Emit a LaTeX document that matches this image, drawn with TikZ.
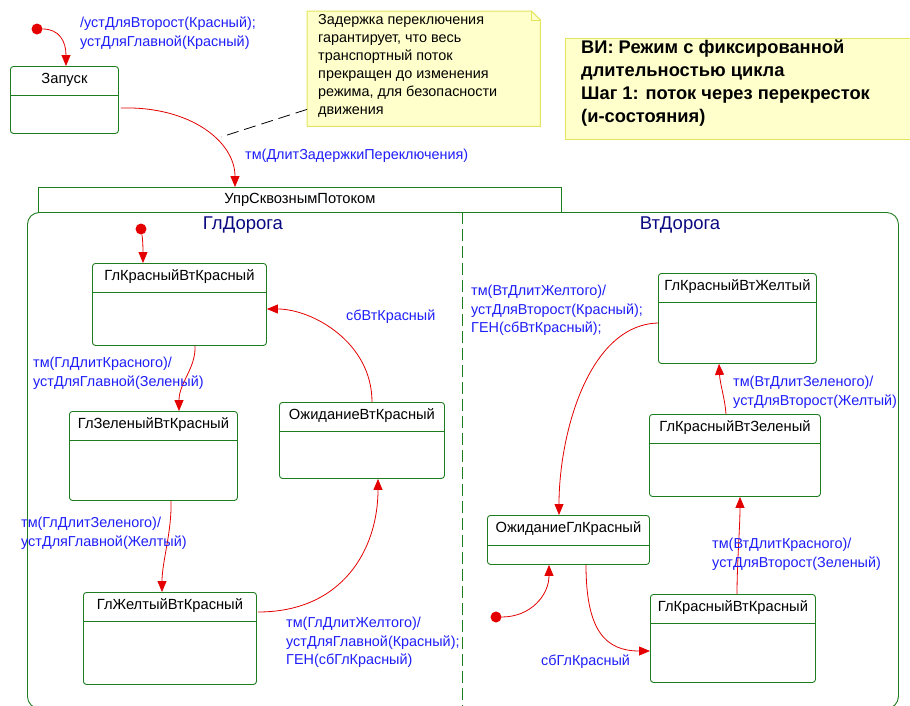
\documentclass[tikz,border=0pt]{standalone}
\usepackage{fontspec}
\setmainfont{Liberation Sans}
\usetikzlibrary{arrows.meta,calc}

\definecolor{stgreen}{RGB}{30,125,30}
\definecolor{trred}{RGB}{228,0,0}
\definecolor{lblue}{RGB}{30,30,250}
\definecolor{regnavy}{RGB}{10,10,130}
\definecolor{notefill}{RGB}{255,255,204}
\definecolor{noteline}{RGB}{228,228,96}

\tikzset{
  statebox/.style={draw=stgreen, line width=0.9pt, rounded corners=3pt, fill=white,
    inner sep=0pt, anchor=north west},
  stname/.style={font=\fontsize{14.7}{17}\selectfont, text=black, inner sep=0pt},
  divline/.style={draw=stgreen, line width=0.8pt},
  trans/.style={draw=trred, line width=0.8pt, -{Triangle[length=11pt,width=9pt]}},
  lbl/.style={font=\fontsize{14.4}{18.5}\selectfont, text=lblue, align=left,
    inner sep=0pt, anchor=north west},
  notetext/.style={font=\fontsize{14.4}{18}\selectfont, text=black, align=left,
    inner sep=0pt, anchor=north west},
  initdot/.style={circle, fill=trred, inner sep=0pt, minimum size=11pt},
  regname/.style={font=\fontsize{18.5}{21}\selectfont, text=regnavy, inner sep=0pt},
}

% state: name, x, y, width, height, divider offset, title
\newcommand\umlstate[7]{%
  \node[statebox, minimum width=#4pt, minimum height=#5pt] (#1) at (#2,#3) {};
  \draw[divline] ($(#1.north west)+(0,#6)$) -- ($(#1.north east)+(0,#6)$);
  \node[stname] (#1-t) at ($(#1.north)+(0,14)$) {#7};
}

\begin{document}
\begin{tikzpicture}[x=1pt,y=-1pt]
\useasboundingbox (0,0) rectangle (910,705);
\fill[white] (0,0) rectangle (910,705);

% composite state with its two concurrent regions
\node[draw=stgreen, line width=0.9pt, rounded corners=12pt, inner sep=0pt,
      minimum width=871pt, minimum height=496pt, anchor=north west] (cont) at (27,212) {};
\node[draw=stgreen, line width=0.9pt, fill=white, inner sep=0pt, minimum width=523pt,
      minimum height=25pt, anchor=north west, font=\fontsize{14.7}{17}\selectfont] (hdr) at (38,187) {УпрСквознымПотоком};
\coordinate (divtop) at ($(cont.north west)+(435,0)$);
\coordinate (divbot) at ($(cont.south west)+(435,0)$);
\draw[stgreen, line width=0.9pt, dash pattern=on 12pt off 5pt] (divtop) -- (divbot);
\node[regname] (rg1) at (243,225) {ГлДорога};
\node[regname] (rg2) at (680,225) {ВтДорога};

% top level state
\umlstate{zap}{10}{66}{108}{67}{29}{Запуск}
\node[initdot] (i0) at (37,29) {};

% note
\node[inner sep=0pt, minimum width=233pt, minimum height=115pt, anchor=north west] (note) at (307,11) {};
\fill[notefill] (note.north west) -- ($(note.north east)+(-9,0)$) -- ($(note.north east)+(0,9)$)
  -- (note.south east) -- (note.south west) -- cycle;
\draw[noteline, line width=1pt] (note.north west) -- ($(note.north east)+(-9,0)$) -- ($(note.north east)+(0,9)$)
  -- (note.south east) -- (note.south west) -- cycle;
\draw[noteline, line width=0.8pt] ($(note.north east)+(-9,0)$) -- ($(note.north east)+(-9,9)$) -- ($(note.north east)+(0,9)$);
\node[notetext] (notet) at (318,14) {Задержка переключения\\гарантирует, что весь\\транспортный поток\\прекращен до изменения\\режима, для безопасности\\движения};

% title box
\node[fill=notefill, draw=noteline, line width=1pt, inner sep=0pt, minimum width=350pt,
      minimum height=101pt, anchor=north west] (title) at (565,38) {};
\node[font=\bfseries\fontsize{18.3}{23}\selectfont, align=left, inner sep=0pt, anchor=north west]
  (titlet) at (581,40) {ВИ: Режим с фиксированной\\длительностью цикла\\Шаг 1: поток через перекресток\\(и-состояния)};

% left region states
\umlstate{lrr}{92}{263}{174}{82}{29}{ГлКрасныйВтКрасный}
\umlstate{lgr}{69}{411}{168}{89}{29}{ГлЗеленыйВтКрасный}
\umlstate{lwr}{279}{402}{165}{76}{29}{ОжиданиеВтКрасный}
\umlstate{lyr}{83}{592}{173}{92}{29}{ГлЖелтыйВтКрасный}
\node[initdot] (i1) at (141,229) {};

% right region states
\umlstate{rry}{658}{273}{158}{90}{29}{ГлКрасныйВтЖелтый}
\umlstate{rrg}{649}{414}{171}{82}{29}{ГлКрасныйВтЗеленый}
\umlstate{rwr}{487}{515}{162}{49}{30}{ОжиданиеГлКрасный}
\umlstate{rrr}{650}{594}{165}{88}{29}{ГлКрасныйВтКрасный}
\node[initdot] (i2) at (496,617) {};

% transitions
\draw[trans] (i0) .. controls +(22,0) and +(0,-25) .. ($(zap.north west)+(56,0)$);
\coordinate (zapout) at ($(zap.north east)+(2,42)$);
\draw[trans] (zapout) .. controls +(70,-2) and +(0,-45) .. ($(hdr.north west)+(197,0)$);
\coordinate (noteend) at (221,137);
\draw[black, line width=0.8pt, dash pattern=on 12pt off 6pt] ($(note.south west)+(0,-17)$) -- (noteend);

\draw[trans] (i1) .. controls +(2,12) and +(0,-12) .. ($(lrr.north west)+(51,0)$);
\draw[trans] ($(lrr.south west)+(103,0)$) .. controls +(1,22) and +(0,-28) .. ($(lgr.north west)+(110,0)$);
\draw[trans] ($(lwr.north west)+(93,0)$) .. controls +(0,-60) and +(45,0) .. ($(lrr.north east)+(0,46)$);
\draw[trans] ($(lgr.south west)+(102,0)$) .. controls +(1,30) and +(0,-30) .. ($(lyr.north west)+(79,0)$);
\draw[trans] ($(lyr.north east)+(1,20)$) .. controls +(85,0) and +(0,70) .. ($(lwr.south west)+(99,0)$);

\draw[trans] ($(rry.north west)+(0,50)$) .. controls +(-70,2) and +(0,-80) .. ($(rwr.north west)+(72,0)$);
\draw[trans] ($(rrg.north west)+(77,0)$) .. controls +(-1,-15) and +(1,20) .. ($(rry.south west)+(61,0)$);
\draw[trans] ($(rrr.north west)+(87,0)$) .. controls +(0,-30) and +(0,30) .. ($(rrg.south west)+(91,0)$);
\draw[trans] (i2) .. controls +(35,0) and +(0,30) .. ($(rwr.south west)+(62,0)$);
\draw[trans] ($(rwr.south west)+(99,0)$) .. controls +(0,65) and +(-45,0) .. ($(rrr.north west)+(0,57)$);

% transition labels
\node[lbl] (l0) at (80,17) {/устДляВторост(Красный);\\устДляГлавной(Красный)};
\node[lbl] (l1) at (245,149) {тм(ДлитЗадержкиПереключения)};
\node[lbl] (l2) at (33,357) {тм(ГлДлитКрасного)/\\устДляГлавной(Зеленый)};
\node[lbl] (l3) at (346,310) {сбВтКрасный};
\node[lbl] (l4) at (21,517) {тм(ГлДлитЗеленого)/\\устДляГлавной(Желтый)};
\node[lbl] (l5) at (286,617) {тм(ГлДлитЖелтого)/\\устДляГлавной(Красный);\\ГЕН(сбГлКрасный)};
\node[lbl] (l6) at (471,285) {тм(ВтДлитЖелтого)/\\устДляВторост(Красный);\\ГЕН(сбВтКрасный);};
\node[lbl] (l7) at (733,376) {тм(ВтДлитЗеленого)/\\устДляВторост(Желтый)};
\node[lbl] (l8) at (712,538) {тм(ВтДлитКрасного)/\\устДляВторост(Зеленый)};
\node[lbl] (l9) at (541,655) {сбГлКрасный};
\end{tikzpicture}
\end{document}
